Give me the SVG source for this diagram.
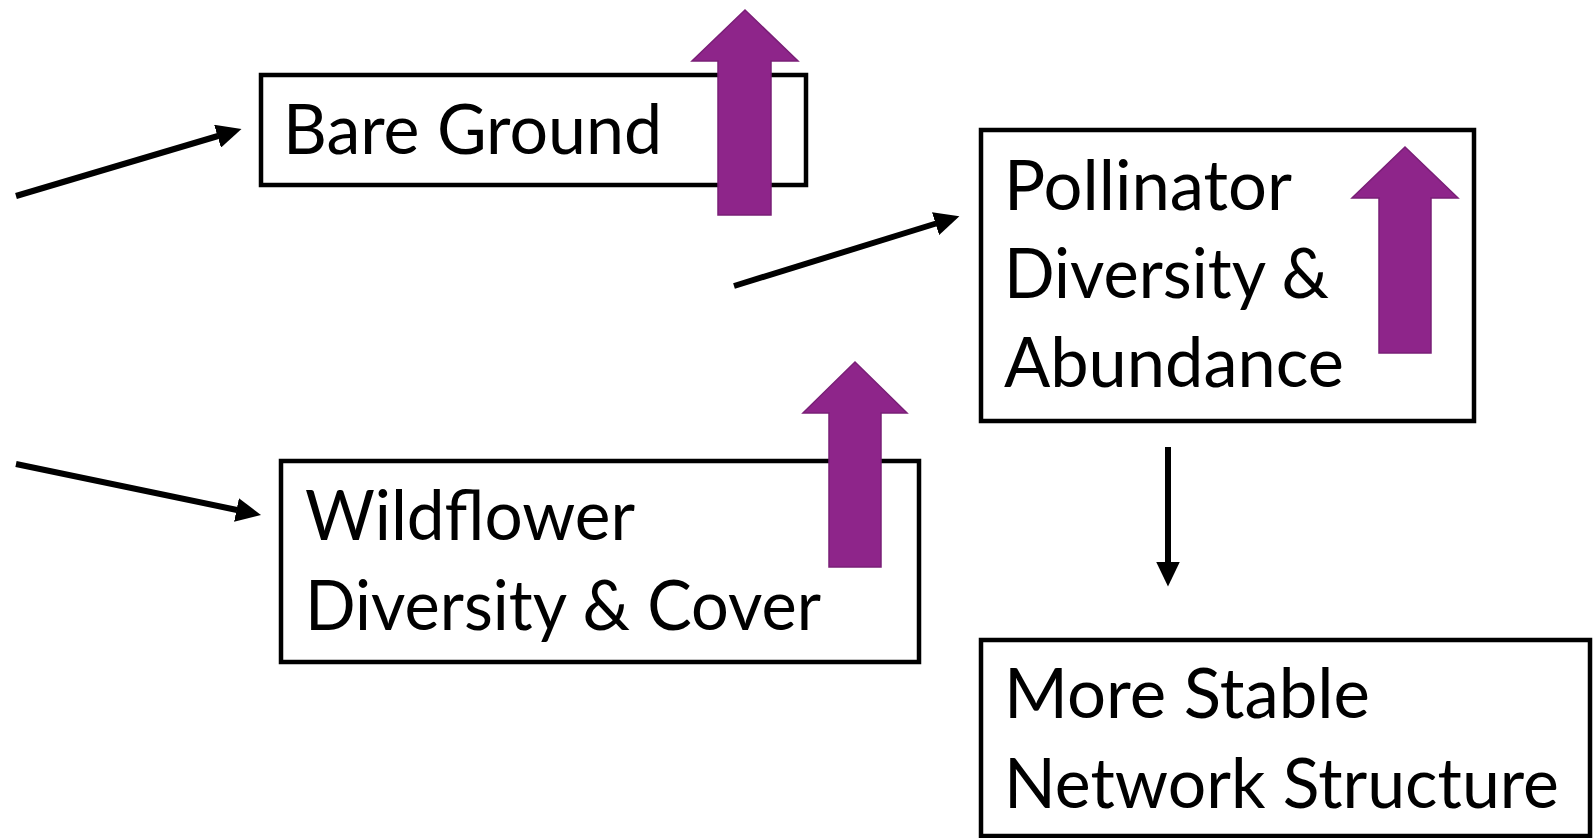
<svg xmlns="http://www.w3.org/2000/svg" width="1593" height="838" viewBox="0 0 1593 838">
<defs>
<style>
.box{fill:#fff;stroke:#000;stroke-width:4.5}
.t{font-family:Lato,"Open Sans","Liberation Sans",sans-serif;font-size:69px;fill:#000}
.up{fill:#8E258A;stroke:#7A1F77;stroke-width:1.5}
.con{stroke:#000;stroke-width:6;fill:none}
</style>
<marker id="ah" markerUnits="userSpaceOnUse" markerWidth="26" markerHeight="24" viewBox="0 0 26 24" refX="0.5" refY="12" orient="auto">
<path d="M0,0 L25,12 L0,24 Z" fill="#000"/>
</marker>
</defs>
<rect width="1593" height="838" fill="#fff"/>
<g id="bare-ground">
<rect class="box" x="261" y="75" width="545" height="110"/>
<text class="t" x="283" y="154" textLength="379" lengthAdjust="spacingAndGlyphs">Bare Ground</text>
<path class="up" d="M745,10 L798,61 L771,61 L771,215 L718,215 L718,61 L692,61 Z"/>
</g>
<g id="pollinator">
<rect class="box" x="981" y="130" width="493" height="291"/>
<text class="t" x="1004" y="210" textLength="288" lengthAdjust="spacingAndGlyphs">Pollinator</text>
<text class="t" x="1004" y="298" textLength="325" lengthAdjust="spacingAndGlyphs">Diversity &amp;</text>
<text class="t" x="1004" y="387" textLength="340" lengthAdjust="spacingAndGlyphs">Abundance</text>
<path class="up" d="M1405,147 L1458,198 L1431,198 L1431,353 L1379,353 L1379,198 L1352,198 Z"/>
</g>
<g id="wildflower">
<rect class="box" x="281" y="461" width="638" height="201"/>
<text class="t" x="305" y="540" textLength="330" lengthAdjust="spacingAndGlyphs">Wildflower</text>
<text class="t" x="305" y="630" textLength="516" lengthAdjust="spacingAndGlyphs">Diversity &amp; Cover</text>
<path class="up" d="M855,362 L907,413 L881,413 L881,567 L829,567 L829,413 L803,413 Z"/>
</g>
<g id="stable">
<rect class="box" x="981" y="640" width="609" height="196"/>
<text class="t" x="1004" y="718" textLength="366" lengthAdjust="spacingAndGlyphs">More Stable</text>
<text class="t" x="1004" y="808" textLength="555" lengthAdjust="spacingAndGlyphs">Network Structure</text>
</g>
<g id="connectors">
<line class="con" x1="16" y1="196" x2="218" y2="136" marker-end="url(#ah)"/>
<line class="con" x1="734" y1="286" x2="936" y2="223.5" marker-end="url(#ah)"/>
<line class="con" x1="16" y1="464" x2="237" y2="510" marker-end="url(#ah)"/>
<line class="con" x1="1168" y1="447" x2="1168" y2="562" marker-end="url(#ah)"/>
</g>
</svg>
